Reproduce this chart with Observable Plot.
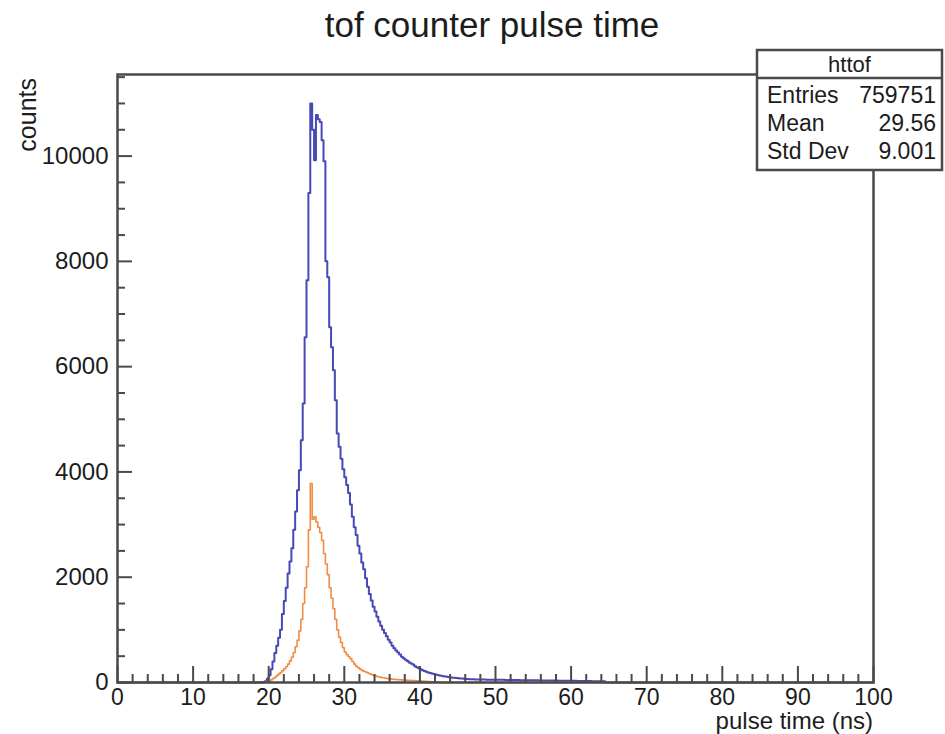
<!DOCTYPE html>
<html><head><meta charset="utf-8">
<script src="https://cdn.jsdelivr.net/npm/d3@7"></script>
<script src="https://cdn.jsdelivr.net/npm/@observablehq/plot@0.6"></script>
<style>
body{margin:0;background:#fff;}
#wrap{position:relative;width:945px;height:734px;overflow:hidden;}
</style></head><body><div id="wrap"></div>
<script>
// ---- data (0.25 ns bins) ----
const binWidth = 0.25;
const xDomain = [0, 100];
const yMax = 11550;

const blueStart = 19.0;
const blueCounts = [
  3, 8, 25, 70, 140, 250, 400, 560, 700, 850, 1000, 1300, 1550, 1800, 2070, 2300,
  2550, 2900, 3250, 3650, 4030, 4600, 5300, 6560, 7640, 9300, 11000, 10500, 9920, 10780,
  10700, 10650, 10300, 9900, 8000, 7700, 6750, 6370, 5930, 5360, 4730, 4480, 4250, 4050,
  3900, 3750, 3600, 3380, 3150, 2950, 2800, 2600, 2450, 2280, 2150, 1980, 1820, 1680,
  1560, 1440, 1350, 1250, 1160, 1080, 1000, 940, 880, 810, 760, 700, 650, 610, 570, 530,
  490, 460, 430, 410, 380, 360, 340, 310, 290, 270, 250, 235, 220, 205, 190, 180, 170,
  160, 150, 143, 135, 128, 120, 114, 108, 102, 97, 92, 88, 84, 80, 77, 74, 71, 68, 66,
  64, 62, 60, 59, 58, 57, 56, 55, 55, 54, 54, 53, 53, 52, 52, 51, 51, 50, 50, 49, 49, 48,
  48, 47, 47, 46, 46, 45, 45, 44, 44, 43, 43, 42, 42, 41, 41, 40, 40, 39, 39, 38, 38, 37,
  37, 36, 36, 35, 35, 34, 34, 33, 33, 32, 32, 31, 31, 30, 30, 29, 29, 28, 28, 27, 27, 26,
  26, 25, 25, 24, 24, 23
];

const orangeStart = 19.5;
const orangeCounts = [
  5, 15, 30, 50, 75, 100, 130, 160, 190, 225, 260, 300, 350, 410, 480, 570, 680, 800,
  980, 1200, 1500, 1800, 2200, 2900, 3780, 3100, 3150, 3050, 2950, 2850, 2700, 2450,
  2250, 2050, 1800, 1600, 1400, 1200, 1000, 860, 760, 660, 580, 530, 490, 450, 400, 350,
  310, 280, 255, 230, 215, 200, 185, 165, 150, 138, 126, 115, 105, 97, 90, 84, 78, 73,
  68, 64, 60, 57, 54, 51, 49, 47, 45, 43, 41, 39, 37, 35, 33, 31, 29, 27, 25, 22, 20,
  18, 15, 12, 10, 8, 5, 3
];

const xTicks = [0, 10, 20, 30, 40, 50, 60, 70, 80, 90, 100];
const xMinorTicks = d3.range(0, 101, 2).filter(v => v % 10 !== 0);
const yTicks = [0, 2000, 4000, 6000, 8000, 10000];
const yMinorTicks = d3.range(0, 11501, 500).filter(v => v % 2000 !== 0);

const titleText = "tof counter pulse time";
const xTitle = "pulse time (ns)";
const yTitle = "counts";
const statsName = "httof";
const statsLabels = ["Entries", "Mean", "Std Dev"];
const statsValues = ["759751", "29.56", "9.001"];

// ---- build step tables ----
function steps(start, counts) {
  const pts = [{x: xDomain[0], y: 0}];
  counts.forEach((c, i) => pts.push({x: start + i * binWidth, y: c}));
  pts.push({x: start + counts.length * binWidth, y: 0});
  pts.push({x: xDomain[1], y: 0});
  return pts;
}
const blueSteps = steps(blueStart, blueCounts);
const orangeSteps = steps(orangeStart, orangeCounts);

// ---- layout ----
const W = 945, H = 734, mL = 117, mR = 72, mT = 74, mB = 52;
const pxY = yMax / (H - mT - mB);        // counts per pixel
const pxX = (xDomain[1] - xDomain[0]) / (W - mL - mR); // ns per pixel
const axisColor = "#4a4a4a";
const textColor = "#1c1c1c";

const plot = Plot.plot({
  width: W, height: H,
  marginLeft: mL, marginRight: mR, marginTop: mT, marginBottom: mB,
  style: {fontFamily: "'Liberation Sans', Arial, sans-serif", fontSize: "23px", color: textColor, background: "#fff"},
  x: {domain: xDomain},
  y: {domain: [0, yMax]},
  marks: [
    Plot.line(blueSteps, {x: "x", y: "y", curve: "step-after", stroke: "#4848b6", strokeWidth: 2}),
    Plot.line(orangeSteps, {x: "x", y: "y", curve: "step-after", stroke: "#f28c45", strokeWidth: 1.6}),
    // inward ticks
    Plot.ruleX(xTicks, {x: d => d, y1: 0, y2: 16 * pxY, stroke: axisColor, strokeWidth: 2}),
    Plot.ruleX(xMinorTicks, {x: d => d, y1: 0, y2: 8 * pxY, stroke: axisColor, strokeWidth: 2}),
    Plot.ruleY(yTicks, {y: d => d, x1: 0, x2: 15 * pxX, stroke: axisColor, strokeWidth: 2}),
    Plot.ruleY(yMinorTicks, {y: d => d, x1: 0, x2: 8 * pxX, stroke: axisColor, strokeWidth: 2}),
    Plot.frame({stroke: axisColor, strokeWidth: 2.5}),
    Plot.axisX({ticks: xTicks, tickSize: 0, tickPadding: 6, fontSize: 23, label: null, fill: textColor, tickFormat: d3.format("d")}),
    Plot.axisY({ticks: yTicks, tickSize: 0, tickPadding: 9, fontSize: 24, label: null, fill: textColor, tickFormat: d3.format("d")})
  ]
});
document.getElementById("wrap").appendChild(plot);

// ---- annotations: title, axis titles, stats box ----
const svg = d3.select(plot);
const ff = "'Liberation Sans', Arial, sans-serif";
svg.append("text").attr("x", 492).attr("y", 37).attr("text-anchor", "middle")
  .attr("font-family", ff).attr("font-size", 35).attr("fill", textColor).text(titleText);
svg.append("text").attr("x", W - mR).attr("y", 729).attr("text-anchor", "end")
  .attr("font-family", ff).attr("font-size", 24).attr("fill", textColor).text(xTitle);
svg.append("text").attr("transform", "translate(36,78) rotate(-90)").attr("text-anchor", "end")
  .attr("font-family", ff).attr("font-size", 25).attr("fill", textColor).text(yTitle);

const bx = 757, by = 50, bw = 185, bh = 120;
const box = svg.append("g");
box.append("rect").attr("x", bx).attr("y", by).attr("width", bw).attr("height", bh)
  .attr("fill", "#fff").attr("stroke", axisColor).attr("stroke-width", 2.5);
box.append("line").attr("x1", bx).attr("x2", bx + bw).attr("y1", 78).attr("y2", 78)
  .attr("stroke", axisColor).attr("stroke-width", 2.5);
box.append("text").attr("x", bx + bw / 2).attr("y", 72).attr("text-anchor", "middle")
  .attr("font-family", ff).attr("font-size", 22).attr("fill", textColor).text(statsName);
const rowY = [103, 131, 159];
statsLabels.forEach((l, i) => {
  box.append("text").attr("x", 767).attr("y", rowY[i]).attr("text-anchor", "start")
    .attr("font-family", ff).attr("font-size", 23).attr("fill", textColor).text(l);
  box.append("text").attr("x", 936).attr("y", rowY[i]).attr("text-anchor", "end")
    .attr("font-family", ff).attr("font-size", 23).attr("fill", textColor).text(statsValues[i]);
});
</script></body></html>
